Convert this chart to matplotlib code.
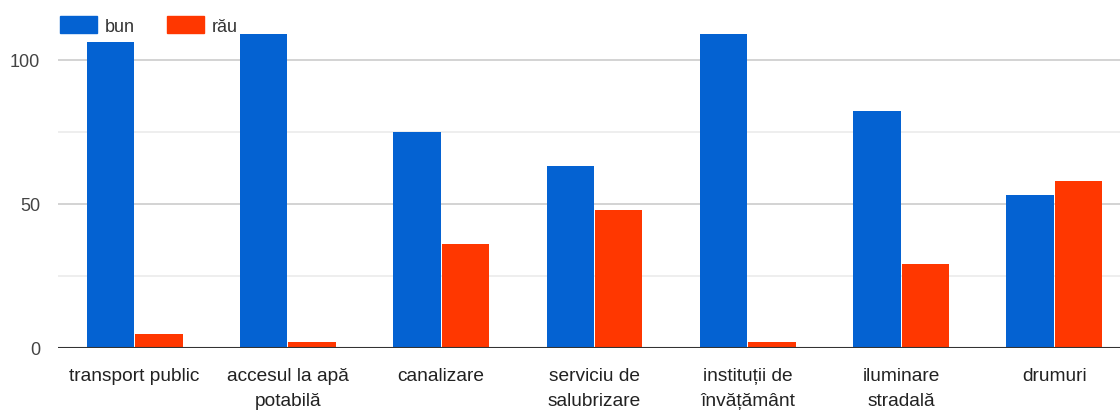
import matplotlib
matplotlib.use("Agg")
import matplotlib.pyplot as plt
import numpy as np
from matplotlib.patches import Patch

categories = ["transport public", "accesul la apă\npotabilă", "canalizare",
              "serviciu de\nsalubrizare", "instituții de\nînvățământ",
              "iluminare\nstradală", "drumuri"]
bun = [106, 109, 75, 63, 109, 82, 53]
rau = [5, 2, 36, 48, 2, 29, 58]
series_names = ["bun", "rău"]
yticks = [0, 50, 100]

BLUE = "#0462D2"
RED = "#FF3700"

plt.rcParams['font.family'] = ['Liberation Sans', 'DejaVu Sans']

W, H = 1120, 414
fig = plt.figure(figsize=(W/100, H/100), dpi=100)
left, right, bottom, top = 58, 1131, 349, 0
ax = fig.add_axes([left/W, 1 - bottom/H, (right-left)/W, (bottom-top)/H])

x = np.arange(len(categories))
bw = 0.31
ax.bar(x - bw/2 - 0.003, bun, width=bw, color=BLUE, zorder=3)
ax.bar(x + bw/2 + 0.003, rau, width=bw, color=RED, zorder=3)

ax.set_xlim(-0.5, len(categories) - 0.5)
ax.set_ylim(0, 121)
ax.set_yticks(yticks)
ax.set_yticks([25, 75], minor=True)
ax.grid(axis='y', which='major', color='#cccccc', linewidth=1.2, zorder=0)
ax.grid(axis='y', which='minor', color='#ebebeb', linewidth=1.2, zorder=0)
ax.axhline(0, color='#333333', linewidth=1.5, zorder=4)
for s in ax.spines.values():
    s.set_visible(False)
ax.tick_params(axis='both', which='both', length=0, colors='#222222')
ax.tick_params(axis='y', pad=13, labelsize=13)
ax.tick_params(axis='x', pad=14, labelsize=13.8)
ax.set_xticks(x)
ax.set_xticklabels(categories, linespacing=1.6)
for lab in ax.get_yticklabels():
    lab.set_color('#444444')

handles = [Patch(color=BLUE), Patch(color=RED)]
leg = fig.legend(handles, series_names, loc='upper left', bbox_to_anchor=(60/W, 1 - 17/H),
                 ncol=2, frameon=False, fontsize=13, handlelength=2.05, handleheight=1.05,
                 handletextpad=0.45, columnspacing=1.75, borderaxespad=0, borderpad=0)
for t in leg.get_texts():
    t.set_color('#333333')

fig.savefig("out.png", dpi=100)
